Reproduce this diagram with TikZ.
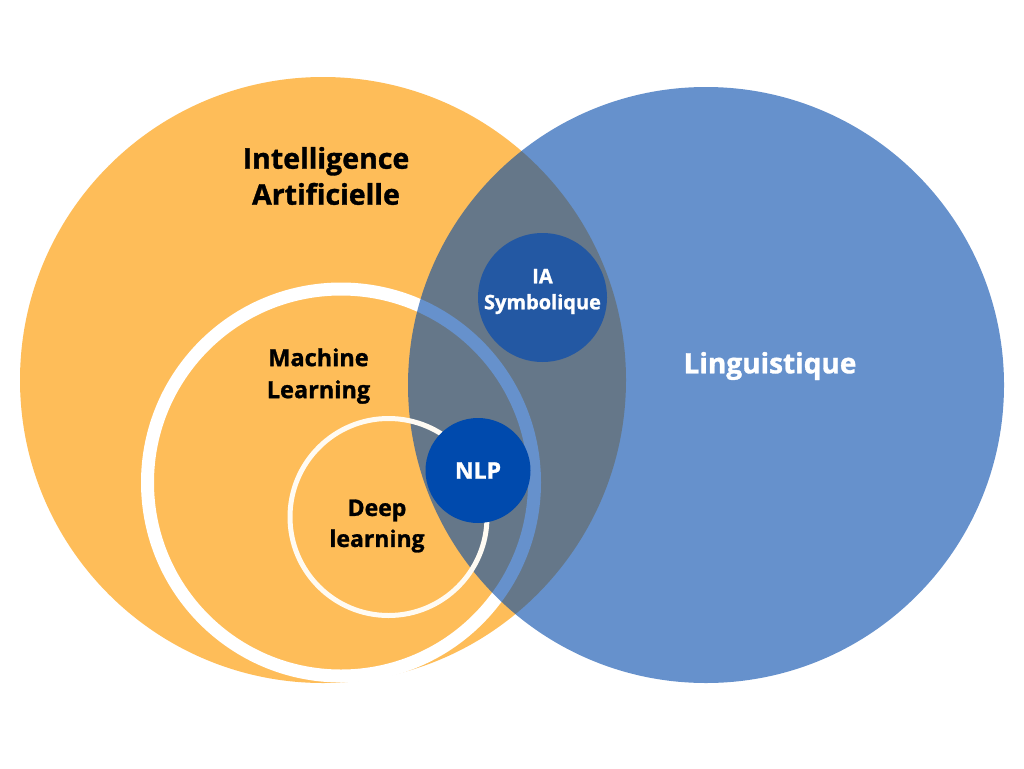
\documentclass[tikz,border=0pt]{standalone}
\usepackage{fontspec}
\setmainfont{Open Sans}[BoldFeatures={FakeBold=1.2}]
\definecolor{iaorange}{RGB}{254,189,89}
\definecolor{lingblue}{RGB}{0,73,170}
\definecolor{symblue}{RGB}{35,88,163}
\definecolor{nlpblue}{RGB}{0,74,173}
\definecolor{ringcream}{RGB}{255,251,243}
\tikzset{
  darklabel/.style={font=\bfseries, text=black, align=center, inner sep=0pt},
  lightlabel/.style={font=\bfseries, text=white, align=center, inner sep=0pt}
}

\begin{document}
\begin{tikzpicture}[x=1pt,y=-1pt]
    \useasboundingbox (0,0) rectangle (1024,768);
    \fill[white] (0,0) rectangle (1024,768);
    % sets
    \fill[iaorange] (323,380) circle (303pt);
    \draw[white, line width=13pt] (341,482.5) circle (193.5pt);
    \fill[lingblue, opacity=0.6] (706,385) circle (298pt);
    \draw[ringcream, line width=5pt] (388.5,517) circle (98.5pt);
    \fill[symblue] (542.5,297.5) circle (64.5pt);
    \fill[nlpblue] (478,470.5) circle (52.5pt);
    % labels
    \node (ia) at (326,176) [darklabel, font=\bfseries\fontsize{28.5}{36}\selectfont] {Intelligence\\Artificielle};
    \node (ml) at (318.5,376) [darklabel, font=\bfseries\fontsize{23.5}{32}\selectfont] {Machine\\Learning};
    \node (dl) at (377,526) [darklabel, font=\bfseries\fontsize{23}{31}\selectfont] {Deep\\learning};
    \node (symb) at (542.5,291.5) [lightlabel, font=\bfseries\fontsize{20}{26}\selectfont] {IA\\Symbolique};
    \node (nlp) at (478,470.5) [lightlabel, font=\bfseries\fontsize{23}{28}\selectfont] {NLP};
    \node (ling) at (770,366) [lightlabel, font=\bfseries\fontsize{28}{34}\selectfont] {Linguistique};
  \end{tikzpicture}
\end{document}
